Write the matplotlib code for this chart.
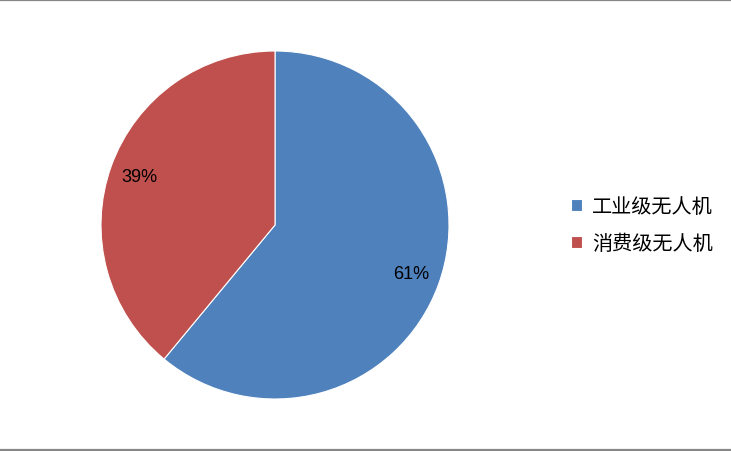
import matplotlib
matplotlib.use('Agg')
import matplotlib.pyplot as plt
from matplotlib.lines import Line2D

plt.rcParams['font.family'] = ['Noto Sans CJK SC', 'DejaVu Sans']

labels = ['工业级无人机', '消费级无人机']
shares = [61, 39]
colors = ['#4F81BD', '#C0504D']

W, H = 731, 452
fig = plt.figure(figsize=(W / 100, H / 100), dpi=100)
ax = fig.add_axes([0, 0, 1, 1])

wedges, texts, autotexts = ax.pie(
    shares, colors=colors, startangle=90, counterclock=False,
    center=(275, 226), radius=174, autopct='%d%%', pctdistance=0.83,
    wedgeprops={'edgecolor': 'white', 'linewidth': 0.8},
    textprops={'fontsize': 13, 'family': ['Liberation Sans'], 'color': 'black'})

# pie() resets the limits, so set the pixel frame afterwards
ax.set_xlim(0, W)
ax.set_ylim(0, H)
ax.set_aspect('equal')
ax.axis('off')

fig.legend(wedges, labels, loc='center left', bbox_to_anchor=(553 / W, 1 - 226 / H),
           frameon=False, fontsize=14.5, handlelength=0.55, handleheight=0.55,
           handletextpad=0.5, labelspacing=0.8)

# grey frame lines at top and bottom
for y in (1 - 1 / H, 1.5 / H):
    fig.add_artist(Line2D([0, 1], [y, y], transform=fig.transFigure,
                          color='#878787', linewidth=1.6))

fig.savefig('out.png', dpi=100, facecolor='white')
